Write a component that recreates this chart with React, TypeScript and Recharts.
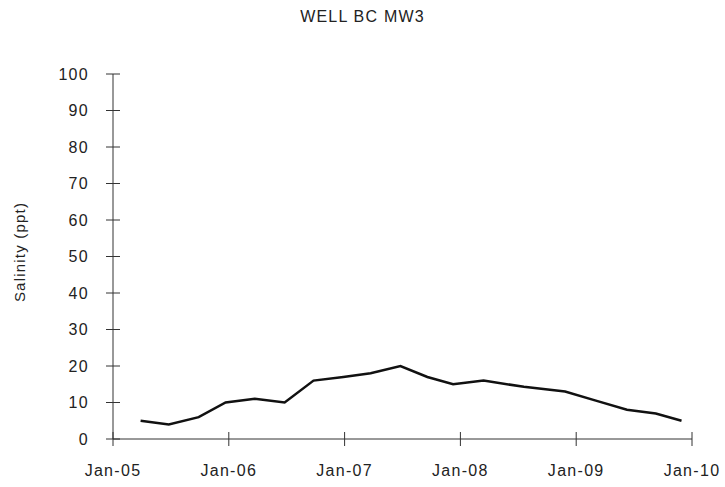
import React from "react";
import { LineChart, Line, XAxis, YAxis } from "recharts";

const sampleDates = [
  "2005-03-29", "2005-06-26", "2005-09-28", "2005-12-22",
  "2006-03-24", "2006-06-26", "2006-09-25", "2006-12-28",
  "2007-03-24", "2007-06-26", "2007-09-19", "2007-12-09",
  "2008-03-14", "2008-07-19", "2008-11-26",
  "2009-03-04", "2009-06-10", "2009-09-09", "2009-11-29",
];
const salinity = [
  5, 4, 6, 10, 11, 10, 16, 17, 18, 20, 17, 15, 16, 14.3, 13, 10.5, 8, 7, 5,
];
const yTicks = [0, 10, 20, 30, 40, 50, 60, 70, 80, 90, 100];
const xTicks = [2005, 2006, 2007, 2008, 2009, 2010];
const xTickLabels = ["Jan-05", "Jan-06", "Jan-07", "Jan-08", "Jan-09", "Jan-10"];

const FONT = "Arial, 'Liberation Sans', sans-serif";
const TEXT = "#222";
const AXIS = "#333";

function toYear(d: string) {
  const [y, m, day] = d.split("-").map(Number);
  const ms = Date.UTC(y, m - 1, day) - Date.UTC(y, 0, 1);
  return y + ms / (365 * 86400000);
}

const data = sampleDates.map((d, i) => ({ t: toYear(d), value: salinity[i] }));

const TICK_SIZE = 6;
const Y_MARGIN = 18;
const X_MARGIN = 8;

function YTick(props: any) {
  const { x, y, payload } = props;
  const axisX = x + TICK_SIZE + Y_MARGIN;
  return (
    <g>
      <line x1={axisX - 7} x2={axisX + 7} y1={y} y2={y} stroke={AXIS} />
      <text
        x={x}
        y={y}
        dy="0.36em"
        textAnchor="end"
        fill={TEXT}
        fontSize={16}
        fontFamily={FONT}
        letterSpacing={1.3}
      >
        {payload.value}
      </text>
    </g>
  );
}

function XTick(props: any) {
  const { x, y, payload } = props;
  const axisY = y - TICK_SIZE - X_MARGIN;
  const idx = xTicks.indexOf(payload.value);
  return (
    <g>
      <line x1={x} x2={x} y1={axisY - 7} y2={axisY + 7} stroke={AXIS} />
      <text
        x={x}
        y={axisY + 37}
        textAnchor="middle"
        fill={TEXT}
        fontSize={16}
        fontFamily={FONT}
        letterSpacing={1.3}
      >
        {xTickLabels[idx]}
      </text>
    </g>
  );
}

export default function App() {
  return (
    <div style={{ position: "absolute", left: 0, top: 0, width: 725, height: 487, background: "#fff" }}>
      <div
        style={{
          position: "absolute",
          left: 0,
          width: 725,
          top: 8,
          textAlign: "center",
          fontFamily: FONT,
          fontSize: 16,
          letterSpacing: 1.2,
          color: TEXT,
        }}
      >
        WELL BC MW3
      </div>
      <div
        style={{
          position: "absolute",
          left: 19,
          top: 252,
          transform: "translate(-50%, -50%) rotate(-90deg)",
          whiteSpace: "nowrap",
          fontFamily: FONT,
          fontSize: 15,
          letterSpacing: 1.2,
          color: TEXT,
        }}
      >
        Salinity (ppt)
      </div>
      <LineChart
        width={725}
        height={487}
        data={data}
        margin={{ top: 74, right: 33, bottom: 0, left: 0 }}
      >
        <XAxis
          dataKey="t"
          type="number"
          domain={[2005, 2010]}
          ticks={xTicks}
          height={48}
          axisLine={{ stroke: AXIS }}
          tickLine={false}
          tickSize={TICK_SIZE}
          tickMargin={X_MARGIN}
          tick={<XTick />}
          interval={0}
        />
        <YAxis
          type="number"
          domain={[0, 100]}
          ticks={yTicks}
          width={113}
          axisLine={{ stroke: AXIS }}
          tickLine={false}
          tickSize={TICK_SIZE}
          tickMargin={Y_MARGIN}
          tick={<YTick />}
          interval={0}
        />
        <Line
          type="linear"
          dataKey="value"
          stroke="#111"
          strokeWidth={2.5}
          dot={false}
          isAnimationActive={false}
        />
      </LineChart>
    </div>
  );
}
